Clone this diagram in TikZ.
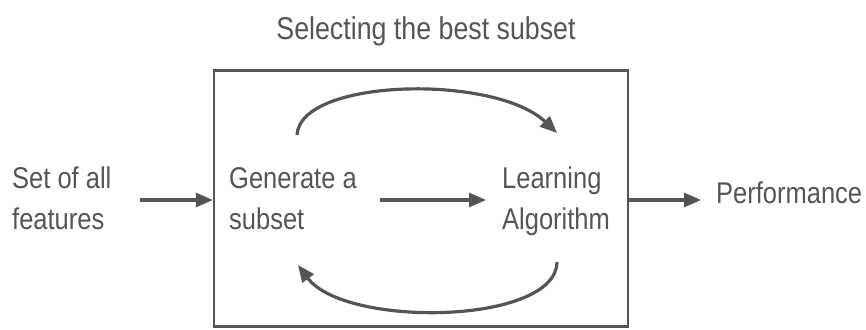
\documentclass[tikz,border=0pt]{standalone}
\usepackage{fontspec}
\setmainfont{Liberation Sans}[FakeStretch=0.85]
\usetikzlibrary{arrows.meta}
\definecolor{ink}{HTML}{555555}
\begin{document}
\begin{tikzpicture}[x=1pt,y=-1pt,
  lbl/.style={inner sep=0pt, align=left, text=ink,
    font=\fontsize{30}{41}\selectfont},
  arr/.style={draw=ink, line width=3.2pt,
    -{Triangle[length=17pt,width=14pt]}},
  frame/.style={draw=ink, line width=2.2pt, minimum width=414pt,
    minimum height=256pt, inner sep=0pt}]
\useasboundingbox (0,0) rectangle (866,329);

% the selection loop box and its caption
\node[frame] (box) at (421,198.5) {};
\node[lbl, anchor=base, font=\fontsize{31.5}{41}\selectfont] (title) at (426,40) {Selecting the best subset};

% labels (anchored at the baseline of their last line)
\node[lbl, anchor=base west] (feat) at (12,229) {Set of all\\features};
\node[lbl, anchor=base west] (gen) at (229,229) {Generate a\\subset};
\node[lbl, anchor=base west] (learn) at (502,229) {Learning\\Algorithm};
\node[lbl, anchor=base west] (perf) at (716,203) {Performance};

% straight connectors
\coordinate (fs) at (140,200);
\coordinate (fe) at (box.west |- fs);
\draw[arr] (fs) -- (fe);
\coordinate (gs) at (380,200);
\coordinate (ge) at (486,200);
\draw[arr] (gs) -- (ge);
\coordinate (ps) at (box.east |- fs);
\coordinate (pe) at (701,200);
\draw[arr] (ps) -- (pe);

% loop arcs
\coordinate (ta) at (297,135);
\coordinate (tb) at (557,133);
\draw[arr] (ta) .. controls (300,78) and (495,74) .. (tb);
\coordinate (ba) at (557,262);
\coordinate (bb) at (298,265);
\draw[arr] (ba) .. controls (556,325) and (345,328) .. (bb);
\end{tikzpicture}
\end{document}
